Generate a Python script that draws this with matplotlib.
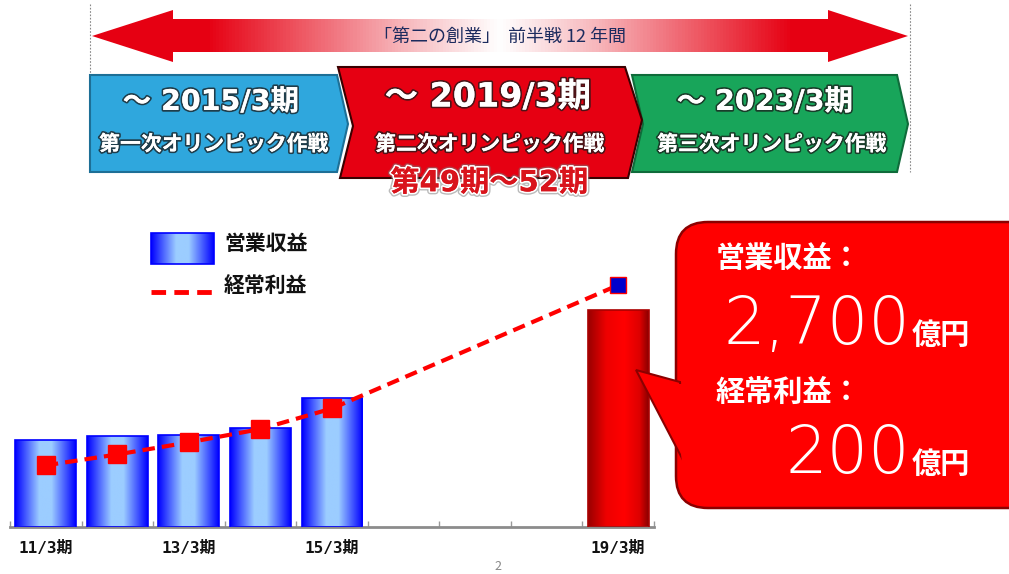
import numpy as np
import matplotlib
matplotlib.use("Agg")
import matplotlib.pyplot as plt
import matplotlib.patheffects as pe
from matplotlib.patches import Polygon, Rectangle, FancyBboxPatch
from matplotlib.colors import LinearSegmentedColormap

plt.rcParams['font.family'] = ['Noto Sans CJK JP', 'DejaVu Sans']
WIDE = ['DejaVu Sans', 'Noto Sans CJK JP']
MONO = ['DejaVu Sans Mono', 'Noto Sans CJK JP']

# === data ===
periods = ['11/3期', '12/3期', '13/3期', '14/3期', '15/3期', '16/3期', '17/3期', '18/3期', '19/3期']
tick_labels = ['11/3期', '', '13/3期', '', '15/3期', '', '', '', '19/3期']
bar_pos = [0, 1, 2, 3, 4, 8]
revenue = [1080, 1130, 1150, 1230, 1610, 2700]      # 営業収益 (億円)
profit = [51, 60, 70, 81, 98, 200]                  # 経常利益 (億円)
phases = ['～ 2015/3期', '～ 2019/3期', '～ 2023/3期']
phase_names = ['第一次オリンピック作戦', '第二次オリンピック作戦', '第三次オリンピック作戦']

W, H = 1009, 574
fig = plt.figure(figsize=(W / 100, H / 100), dpi=100)
fig.patch.set_facecolor('white')

# === bar / line chart ===
base_y, top_y = 527, 215
ax = fig.add_axes([10 / W, (H - base_y) / H, 644 / W, (base_y - top_y) / H])
ax.patch.set_alpha(0)

blue_cmap = LinearSegmentedColormap.from_list(
    'bl', [(0, '#0000ff'), (0.4, '#9ccdff'), (0.6, '#9ccdff'), (1, '#0000ff')])
red_cmap = LinearSegmentedColormap.from_list(
    'rd', [(0, '#990000'), (0.3, '#ee0000'), (0.6, '#ff0000'), (0.85, '#dd0000'), (1, '#880000')])
grad = np.linspace(0, 1, 256).reshape(1, -1)

bw = 0.85
for i, (x, v) in enumerate(zip(bar_pos, revenue)):
    last = i == len(bar_pos) - 1
    cmap = red_cmap if last else blue_cmap
    rect = Rectangle((x - bw / 2, 0), bw, v, facecolor='none',
                     edgecolor='#aa0000' if last else '#0000ff', lw=1.2, zorder=3)
    ax.add_patch(rect)
    im = ax.imshow(grad, cmap=cmap, aspect='auto', extent=(x - bw / 2, x + bw / 2, 0, v), zorder=2)
    im.set_clip_path(rect)
ax.set_xlim(-0.5, 8.5)
ax.set_ylim(0, 3880)

for s in ['top', 'right', 'left']:
    ax.spines[s].set_visible(False)
ax.spines['bottom'].set_color('#8c8c8c')
ax.spines['bottom'].set_linewidth(2)
ax.set_yticks([])
ax.set_xticks(range(len(periods)))
ax.set_xticklabels(tick_labels, fontsize=11.5, fontweight='bold', color='#111111', family=MONO)
ax.tick_params(axis='x', which='major', length=0, pad=10)
ax.set_xticks(np.arange(-0.5, 9, 1), minor=True)
ax.tick_params(axis='x', which='minor', direction='in', length=4, color='#999999', width=1)

ax2 = ax.twinx()
ax2.set_ylim(0, 258)
ax2.axis('off')
ax2.plot(bar_pos, profit, color='#ff0000', lw=3, dashes=(3, 1.7), zorder=4)
ax2.plot(bar_pos[:-1], profit[:-1], 's', color='#ff0000', ms=13, zorder=5)
ax2.plot(bar_pos[-1:], profit[-1:], 's', mfc='#0000cc', mec='#ff0000', mew=1, ms=11, zorder=5)

# === overlay in pixel coords ===
ov = fig.add_axes([0, 0, 1, 1])
ov.axis('off')

# big two-headed arrow
arrow = Polygon([(92, 36), (173, 10), (173, 19), (828, 19), (828, 10), (908, 36),
                 (828, 62), (828, 52), (173, 52), (173, 62)], closed=True,
                facecolor='none', edgecolor='none')
ov.add_patch(arrow)
arr_cmap = LinearSegmentedColormap.from_list(
    'ar', [(0, '#e60012'), (0.14, '#e60012'), (0.38, '#f7b6bb'), (0.5, '#ffffff'),
           (0.62, '#f7b6bb'), (0.86, '#e60012'), (1, '#e60012')])
aim = ov.imshow(grad, cmap=arr_cmap, aspect='auto', extent=(92, 908, 62, 10), zorder=1)
aim.set_clip_path(arrow)
ov.text(500, 37, '「第二の創業」  前半戦 12 年間', ha='center', va='center',
        fontsize=13, color='#1c2b5e', zorder=3)
for xv in (90, 910):
    ov.plot([xv, xv], [4, 172], color='#888888', lw=0.8, ls=(0, (1.5, 1.5)))

# three phase chevrons
shadow = [pe.withStroke(linewidth=2.5, foreground='#1a1a1a', alpha=0.75), pe.Normal()]
chevrons = [
    ([(90, 75), (337, 75), (348, 124), (337, 172), (90, 172)], '#2fa7dd', '#1d6f96'),
    ([(632, 75), (897, 75), (908, 124), (897, 172), (632, 172), (643, 124)], '#18a55a', '#0f6b3a'),
    ([(338, 67), (625, 67), (642, 120), (628, 178), (340, 178), (353, 126)], '#e60012', '#3a0000'),
]
for pts, fc, ec in chevrons:
    ov.add_patch(Polygon(pts, closed=True, facecolor=fc, edgecolor=ec, lw=1.5, zorder=2))

phase_x = [211, 488, 765]
phase_y = [102, 97, 102]
phase_fs = [20.5, 24, 20.5]
name_x = [214, 490, 772]
for px, py, fs, nx, ph, nm in zip(phase_x, phase_y, phase_fs, name_x, phases, phase_names):
    ov.text(px, py, ph, ha='center', va='center', fontsize=fs, fontweight='bold',
            color='white', path_effects=shadow, zorder=4, family=WIDE)
    ov.text(nx, 144, nm, ha='center', va='center', fontsize=15,
            fontweight='bold', color='white', path_effects=shadow, zorder=4)
ov.text(489, 183, '第49期～52期', ha='center', va='center', fontsize=21, fontweight='bold',
        color='#d9141c', zorder=5, family=WIDE,
        path_effects=[pe.withStroke(linewidth=4.5, foreground='#777777', alpha=0.5),
                      pe.withStroke(linewidth=2.5, foreground='white'), pe.Normal()])

# legend
leg = Rectangle((151, 233), 63, 31, facecolor='none', edgecolor='#0000ff', lw=1.2, zorder=3)
ov.add_patch(leg)
lim = ov.imshow(grad, cmap=blue_cmap, aspect='auto', extent=(151, 214, 264, 233), zorder=2)
lim.set_clip_path(leg)
ov.text(224, 243, '営業収益', ha='left', va='center', fontsize=15, fontweight='bold', color='#111111')
ov.plot([151, 213], [292, 292], color='#ff0000', lw=3.5, dashes=(3, 1.7))
ov.text(224, 286, '経常利益', ha='left', va='center', fontsize=15, fontweight='bold', color='#111111')

# callout bubble
box = FancyBboxPatch((676, 222), 420, 286, boxstyle='round,pad=0,rounding_size=32',
                     facecolor='#ff0000', edgecolor='#8b0000', lw=1.8, zorder=2)
ov.add_patch(box)
ov.add_patch(Polygon([(680, 382), (636, 370), (684, 462)], closed=True,
                     facecolor='#ff0000', edgecolor='#8b0000', lw=1.5, zorder=3))
ov.add_patch(Polygon([(672, 384), (700, 384), (700, 470), (683, 470)], closed=True,
                     facecolor='#ff0000', edgecolor='none', zorder=4))
ov.set_xlim(0, W)
ov.set_ylim(H, 0)

ov.text(716, 258, '営業収益：', ha='left', va='center', fontsize=21, fontweight='bold',
        color='white', zorder=5)
ov.text(910, 344, '2,700', ha='right', va='baseline', fontsize=47, fontweight=200,
        color='white', zorder=5, family=WIDE)
ov.text(912, 344, '億円', ha='left', va='baseline', fontsize=21, fontweight='bold',
        color='white', zorder=5)
ov.text(716, 392, '経常利益：', ha='left', va='center', fontsize=21, fontweight='bold',
        color='white', zorder=5)
ov.text(910, 473, '200', ha='right', va='baseline', fontsize=47, fontweight=200,
        color='white', zorder=5, family=WIDE)
ov.text(912, 473, '億円', ha='left', va='baseline', fontsize=21, fontweight='bold',
        color='white', zorder=5)

ov.text(498, 566, '2', ha='center', va='center', fontsize=9, color='#888888')

fig.savefig('out.png', dpi=100)
